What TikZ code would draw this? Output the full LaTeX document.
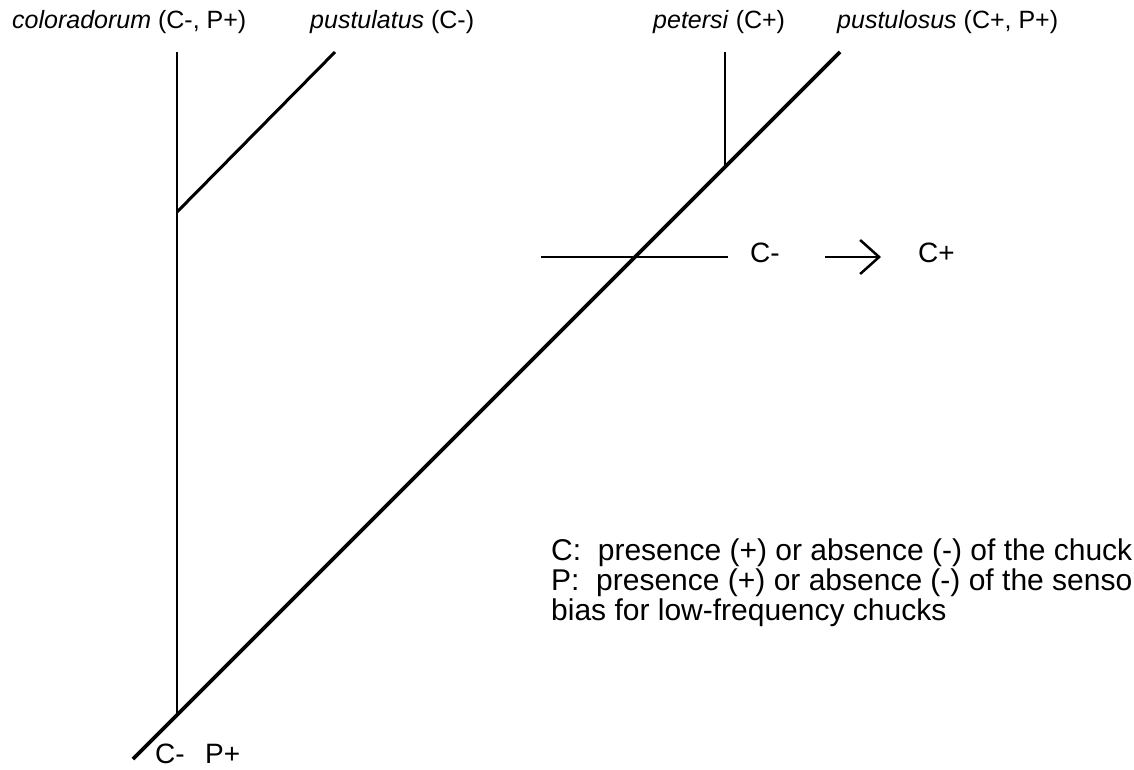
\documentclass[tikz,border=0pt]{standalone}
\usepackage{fontspec}
\setmainfont{Liberation Sans}
\usetikzlibrary{arrows.meta, positioning}
\begin{document}
\begin{tikzpicture}[x=1pt,y=-1pt,
 every node/.style={inner sep=0pt,anchor=base west},
 sp/.style={font=\fontsize{25}{30}\selectfont},
 tag/.style={font=\fontsize{28}{34}\selectfont},
 leg/.style={font=\fontsize{30}{30}\selectfont},
 trunk/.style={line width=3.8pt},
 twig/.style={line width=2pt}]
 \useasboundingbox (0,0) rectangle (1134,769);
 % tree points
 \coordinate (root) at (133,759);
 \coordinate (tipR) at (840,52);
 \coordinate (cjoin) at (177,715);
 \coordinate (ctip) at (177,52);
 \coordinate (ljoin) at (177,212);
 \coordinate (ltip) at (335,52);
 \coordinate (pjoin) at (725,167);
 \coordinate (ptip) at (725,52);
 \coordinate (barL) at (541,257);
 \coordinate (barR) at (728,257);
 \coordinate (arrS) at (825,257);
 \coordinate (arrE) at (881,257);
 % species
 \node[sp] (colo) at (12,28) {\itshape coloradorum\/\upshape{} (C-, P+)};
 \node[sp] (pust) at (310,28) {\itshape pustulatus\/\upshape{} (C-)};
 \node[sp] (pete) at (653,28) {\itshape petersi\/\upshape{} (C+)};
 \node[sp] (pulo) at (837,28) {\itshape pustulosus\/\upshape{} (C+, P+)};
 % branches
 \draw[trunk] (root)--(tipR);
 \draw[twig] (cjoin)--(ctip);
 \draw[trunk,line width=3pt] (ljoin)--(ltip);
 \draw[twig] (pjoin)--(ptip);
 \draw[twig] (barL)--(barR);
 \draw[line width=2.5pt,-{Straight Barb[length=19pt,width=34pt]}] (arrS)--(arrE);
 % character states
 \node[tag] (cminus) at (750,262) {C-};
 \node[tag] (cplus) at (918,262) {C+};
 \node[tag] (rootlab) at (155,763) {C-\hspace{0.73em}P+};
 % legend
 \node[leg] (leg1) at (551,560) {C:\ \ presence (+) or absence (-) of the chuck};
 \node[leg] (leg2) at (551,590) {P:\ \ presence (+) or absence (-) of the senso};
 \node[leg] (leg3) at (551,620) {bias for low-frequency chucks};
\end{tikzpicture}
\end{document}
